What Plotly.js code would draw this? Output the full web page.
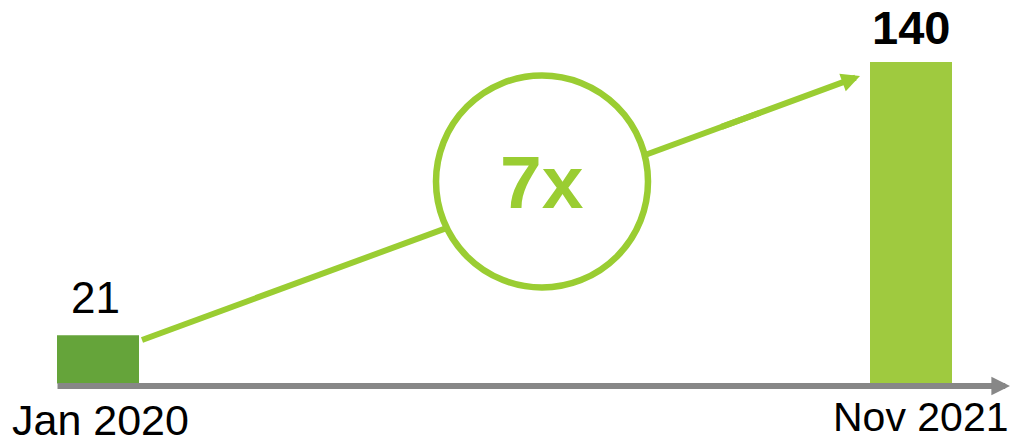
<!DOCTYPE html>
<html>
<head>
<meta charset="utf-8">
<script src="https://cdn.plot.ly/plotly-3.0.1.min.js"></script>
<style>html,body{margin:0;padding:0;background:#fff;}#chart{width:1020px;height:444px;}</style>
</head>
<body>
<div id="chart"></div>
<script>
// ---- data ----
const categories = ['Jan 2020', 'Nov 2021'];
const values = [21, 140];
const valueLabels = ['21', '140'];
const multiplierLabel = '7x';
const barColors = ['#65a43a', '#9fca3f'];

// ---- layout helpers (pixel -> data) ----
const W = 1020, H = 444;
const X0PX = 98, XUNIT = 813;          // px of category 0, px per category step
const YBASE = 383.5, YUNIT = 2.2964;   // px of value 0, px per unit
const fx = p => (p - X0PX) / XUNIT;
const fy = p => (YBASE - p) / YUNIT;

const xIdx = categories.map((_, i) => i);
const green = '#9acd32';
const gray = '#878787';
const font = 'Liberation Sans, Arial, sans-serif';

const trace = {
  type: 'bar',
  x: xIdx,
  y: values,
  width: 82 / XUNIT,
  marker: { color: barColors, line: { width: 0 } },
  hoverinfo: 'skip'
};

// growth arrow geometry
const aStart = [142, 340], aTip = [860, 76];
const slope = (aTip[1] - aStart[1]) / (aTip[0] - aStart[0]);
const yAt = px => aStart[1] + slope * (px - aStart[0]);

const annotations = [
  // x-axis arrow
  { x: fx(1010), y: fy(386), ax: fx(56), ay: fy(386), axref: 'x', ayref: 'y', xref: 'x', yref: 'y',
    text: '', showarrow: true, arrowhead: 2, arrowsize: 0.62, arrowwidth: 6, arrowcolor: gray, standoff: 0 },
  // growth arrow head segment
  { x: fx(aTip[0]), y: fy(aTip[1]), ax: fx(720), ay: fy(yAt(720)), axref: 'x', ayref: 'y', xref: 'x', yref: 'y',
    text: '', showarrow: true, arrowhead: 2, arrowsize: 0.62, arrowwidth: 6, arrowcolor: green, standoff: 0 },
  // multiplier text
  { x: fx(542), y: fy(182), xref: 'x', yref: 'y', text: '<b>' + multiplierLabel + '</b>', showarrow: false,
    xanchor: 'center', yanchor: 'middle', font: { family: font, size: 75, color: green } },
  // value labels
  { x: xIdx[0], y: values[0], xref: 'x', yref: 'y', text: valueLabels[0], showarrow: false,
    xanchor: 'center', yanchor: 'middle', xshift: -3, yshift: 38, font: { family: font, size: 44, color: '#000' } },
  { x: xIdx[1], y: values[1], xref: 'x', yref: 'y', text: '<b>' + valueLabels[1] + '</b>', showarrow: false,
    xanchor: 'center', yanchor: 'middle', xshift: 0, yshift: 35, font: { family: font, size: 47, color: '#000' } },
  // category labels
  { x: xIdx[0], y: 0, xref: 'x', yref: 'y', text: categories[0], showarrow: false,
    xanchor: 'center', yanchor: 'middle', xshift: 2, yshift: -36, font: { family: font, size: 43, color: '#000' } },
  { x: xIdx[1], y: 0, xref: 'x', yref: 'y', text: categories[1], showarrow: false,
    xanchor: 'center', yanchor: 'middle', xshift: 10, yshift: -33, font: { family: font, size: 41, color: '#000' } }
];

const shapes = [
  // growth arrow line (under circle)
  { type: 'line', xref: 'x', yref: 'y', x0: fx(aStart[0]), y0: fy(aStart[1]), x1: fx(760), y1: fy(yAt(760)),
    line: { color: green, width: 6 } },
  // circle
  { type: 'circle', xref: 'x', yref: 'y', xsizemode: 'pixel', ysizemode: 'pixel',
    xanchor: fx(542), yanchor: fy(181.5), x0: -106, x1: 106, y0: -106, y1: 106,
    fillcolor: '#ffffff', line: { color: green, width: 6.5 } }
];

const layout = {
  width: W, height: H,
  margin: { l: 0, r: 0, t: 0, b: 0, pad: 0 },
  paper_bgcolor: '#fff', plot_bgcolor: '#fff',
  showlegend: false,
  xaxis: { range: [fx(0), fx(W)], visible: false, fixedrange: true },
  yaxis: { range: [fy(H), fy(0)], visible: false, fixedrange: true },
  shapes: shapes,
  annotations: annotations
};

Plotly.newPlot('chart', [trace], layout, { displayModeBar: false, staticPlot: true });
</script>
</body>
</html>
